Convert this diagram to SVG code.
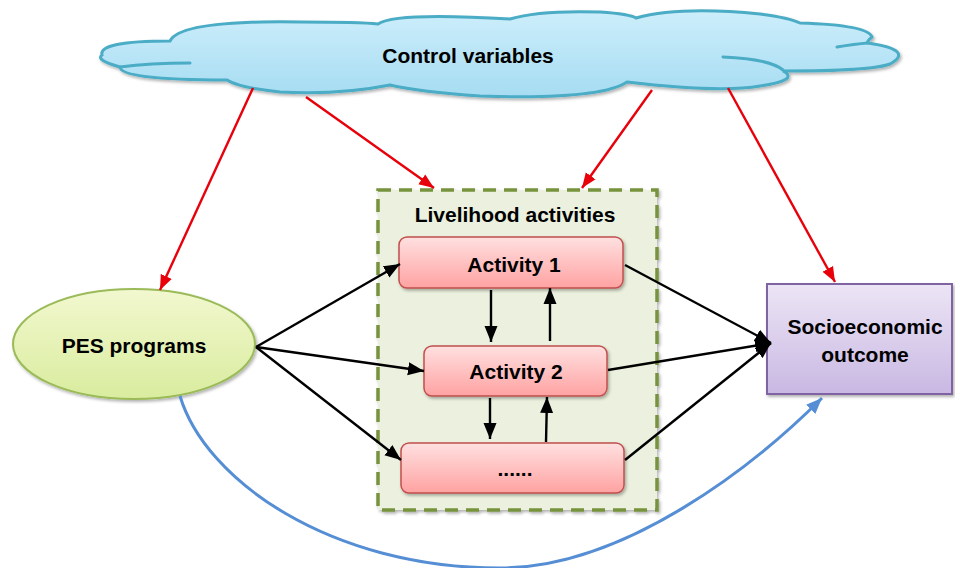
<svg xmlns="http://www.w3.org/2000/svg" width="955" height="568" viewBox="0 0 955 568">
<defs>
<linearGradient id="gCloud" x1="0" y1="0" x2="0" y2="1"><stop offset="0" stop-color="#cdeefb"/><stop offset="1" stop-color="#a6dcf2"/></linearGradient>
<linearGradient id="gPink" x1="0" y1="0" x2="0" y2="1"><stop offset="0" stop-color="#ffe0e0"/><stop offset="1" stop-color="#ffa2a2"/></linearGradient>
<linearGradient id="gGreen" x1="0" y1="0" x2="0" y2="1"><stop offset="0" stop-color="#f2f8cf"/><stop offset="1" stop-color="#d9ec9e"/></linearGradient>
<linearGradient id="gPurple" x1="0" y1="0" x2="0" y2="1"><stop offset="0" stop-color="#ece5f5"/><stop offset="1" stop-color="#c9b8e3"/></linearGradient>
<filter id="sh" x="-10%" y="-10%" width="125%" height="130%"><feDropShadow dx="1.5" dy="2" stdDeviation="1.5" flood-color="#000" flood-opacity="0.3"/></filter>
<marker id="aBlack" markerUnits="userSpaceOnUse" markerWidth="17" markerHeight="14" refX="16" refY="7" orient="auto"><path d="M0,0.5 L16,7 L0,13.5 Z" fill="#000"/></marker>
<marker id="aRed" markerUnits="userSpaceOnUse" markerWidth="16" markerHeight="14" refX="15" refY="7" orient="auto"><path d="M0,1 L15,7 L0,13 Z" fill="#e8000b"/></marker>
<marker id="aBlue" markerUnits="userSpaceOnUse" markerWidth="17" markerHeight="14" refX="16" refY="7" orient="auto"><path d="M0,0.5 L16,7 L0,13.5 Z" fill="#558ed5"/></marker>
</defs>
<style>
text{font-family:"Liberation Sans",Arial,sans-serif;font-weight:bold;font-size:21px;fill:#000;text-anchor:middle}
.blk{stroke:#000;stroke-width:2.4;fill:none;marker-end:url(#aBlack)}
.red{stroke:#e8000b;stroke-width:2.4;fill:none;marker-end:url(#aRed)}
.act{fill:url(#gPink);stroke:#c0504d;stroke-width:1.5}
.cl{fill:none;stroke:#4bacc6;stroke-width:3;stroke-linecap:round}
</style>
<rect width="955" height="568" fill="#fff"/>

<g id="control-variables">
<path filter="url(#sh)" d="M102 55 Q98 41 170 41 Q180 20 300 22 Q360 22 378 24 Q395 12 510 19 Q540 10 600 12 Q630 14 636 18 Q680 6 760 14 Q790 18 800 23 Q868 25 872 37 Q866 42 868 43 Q915 50 890 64 Q872 71 783 71 Q800 80 760 86 Q720 93 627 82 Q600 100 480 96 Q420 92 390 85 Q340 95 280 92 Q240 88 227 80 Q120 80 120 67 Q95 60 102 55 Z" fill="url(#gCloud)" stroke="#4bacc6" stroke-width="3"/>
<path class="cl" d="M120 67 Q150 63 190 63"/>
<path class="cl" d="M723 57 Q770 59 783 70"/>
<path class="cl" d="M837 47 Q855 44 868 43"/>
<text x="468" y="63">Control variables</text>
</g>

<g id="livelihood-activities">
<rect x="378" y="190" width="279" height="320" fill="#ebf1de" stroke="#77933c" stroke-width="3.5" stroke-dasharray="13 8" filter="url(#sh)"/>
<text x="515" y="222">Livelihood activities</text>
</g>

<g id="activity-1">
<rect class="act" x="399" y="237" width="224" height="51" rx="8" filter="url(#sh)"/>
<text x="514" y="272">Activity 1</text>
</g>
<g id="activity-2">
<rect class="act" x="424" y="346" width="183" height="50" rx="8" filter="url(#sh)"/>
<text x="516" y="379">Activity 2</text>
</g>
<g id="activity-n">
<rect class="act" x="401" y="443" width="223" height="50" rx="8" filter="url(#sh)"/>
<text x="515" y="476">......</text>
</g>

<g id="pes-programs">
<ellipse cx="134" cy="344" rx="121" ry="55" fill="url(#gGreen)" stroke="#9bbb59" stroke-width="2" filter="url(#sh)"/>
<text x="134" y="353">PES programs</text>
</g>

<g id="socioeconomic-outcome">
<rect x="767" y="284" width="185" height="110" fill="url(#gPurple)" stroke="#8064a2" stroke-width="2" filter="url(#sh)"/>
<text x="865" y="334">Socioeconomic</text>
<text x="865" y="362">outcome</text>
</g>

<g id="connectors">
<line class="red" x1="253" y1="88" x2="160" y2="290"/>
<line class="red" x1="306" y1="97" x2="434" y2="188"/>
<line class="red" x1="652" y1="90" x2="582" y2="188"/>
<line class="red" x1="728" y1="88" x2="835" y2="282"/>

<line class="blk" x1="256" y1="347" x2="400" y2="264"/>
<line class="blk" x1="256" y1="347" x2="424" y2="371"/>
<line class="blk" x1="256" y1="347" x2="401" y2="460"/>

<line class="blk" x1="625" y1="265" x2="771" y2="343"/>
<line class="blk" x1="608" y1="370" x2="771" y2="343"/>
<line class="blk" x1="625" y1="460" x2="771" y2="343"/>

<line class="blk" x1="491" y1="290" x2="491" y2="342"/>
<line class="blk" x1="550" y1="341" x2="550" y2="288"/>
<line class="blk" x1="490" y1="398" x2="490" y2="439"/>
<line class="blk" x1="546" y1="442" x2="547" y2="397"/>

<path d="M180 396 C205 480 330 568 500 568 C625 568 755 465 822 398" fill="none" stroke="#558ed5" stroke-width="3" marker-end="url(#aBlue)"/>
</g>
</svg>
